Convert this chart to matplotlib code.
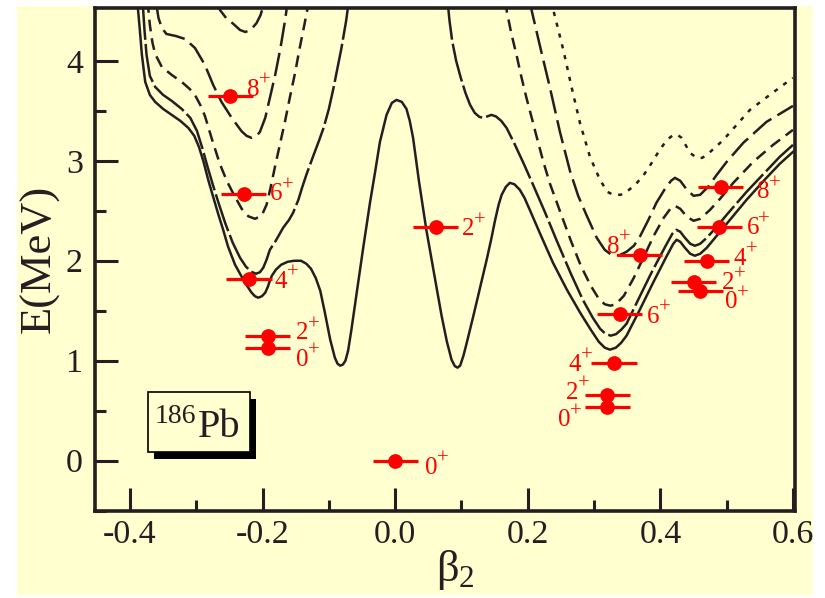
import matplotlib
matplotlib.use("Agg")
import matplotlib.pyplot as plt
from matplotlib.patches import Rectangle

plt.rcParams["font.family"] = ["Liberation Serif", "DejaVu Serif"]
plt.rcParams["mathtext.fontset"] = "custom"
plt.rcParams["mathtext.rm"] = "Liberation Serif"
plt.rcParams["mathtext.it"] = "Liberation Serif:italic"
plt.rcParams["mathtext.bf"] = "Liberation Serif:bold"
plt.rcParams["axes.unicode_minus"] = False
plt.rcParams["lines.scale_dashes"] = False

# ---------------- potential energy curves E_I(beta2) ----------------
# I = 0 (continuous over the whole deformation range)
i0_beta = [-0.389, -0.385, -0.382, -0.377, -0.370, -0.362, -0.350, -0.337, -0.324, -0.312,
           -0.303, -0.296, -0.289, -0.282, -0.275, -0.267, -0.259, -0.252, -0.2415, -0.2315,
           -0.2235, -0.2165, -0.2115, -0.2065, -0.201, -0.196, -0.192, -0.189, -0.186, -0.180,
           -0.172, -0.162, -0.152, -0.142, -0.134, -0.127, -0.120, -0.113, -0.106, -0.098,
           -0.091, -0.087, -0.083, -0.079, -0.075, -0.071, -0.066, -0.058, -0.048, -0.038,
           -0.030, -0.023, -0.013, -0.005, 0.002, 0.010, 0.017, 0.022, 0.027, 0.036,
           0.047, 0.063, 0.070, 0.078, 0.085, 0.090, 0.094, 0.098, 0.103, 0.108,
           0.118, 0.128, 0.138, 0.145, 0.1505, 0.156, 0.1606, 0.167, 0.173, 0.180,
           0.188, 0.195, 0.203, 0.218, 0.238, 0.259, 0.279, 0.295, 0.307, 0.316,
           0.324, 0.333, 0.341, 0.349, 0.369, 0.389, 0.409, 0.4195, 0.4245, 0.430,
           0.437, 0.445, 0.452, 0.460, 0.470, 0.485, 0.500, 0.530, 0.560, 0.580, 0.600]
i0_e = [4.60, 4.30, 4.06, 3.79, 3.66, 3.59, 3.52, 3.46, 3.40, 3.33,
        3.25, 3.14, 2.99, 2.81, 2.65, 2.47, 2.30, 2.14, 1.96, 1.84,
        1.75, 1.68, 1.645, 1.63, 1.645, 1.68, 1.74, 1.80, 1.85, 1.91,
        1.96, 1.99, 2.00, 2.00, 1.97, 1.92, 1.83, 1.70, 1.48, 1.21,
        1.03, 0.97, 0.95, 0.96, 1.00, 1.10, 1.31, 1.68, 2.14, 2.58,
        2.90, 3.19, 3.46, 3.58, 3.61, 3.59, 3.52, 3.40, 3.23, 2.79,
        2.31, 1.71, 1.45, 1.19, 1.01, 0.945, 0.93, 0.95, 1.05, 1.18,
        1.45, 1.73, 2.01, 2.22, 2.40, 2.56, 2.66, 2.74, 2.78, 2.765,
        2.71, 2.63, 2.51, 2.28, 1.98, 1.71, 1.48, 1.31, 1.19, 1.13,
        1.11, 1.13, 1.18, 1.25, 1.51, 1.78, 2.04, 2.17, 2.21, 2.19,
        2.13, 2.07, 2.05, 2.07, 2.13, 2.25, 2.37, 2.61, 2.83, 2.97, 3.09]

# I = 2
i2_obl_beta = [-0.381, -0.378, -0.375, -0.370, -0.362, -0.350, -0.337, -0.322, -0.309, -0.299,
               -0.291, -0.283, -0.275, -0.266, -0.256, -0.245, -0.234, -0.225, -0.217, -0.210,
               -0.204, -0.199, -0.194, -0.189, -0.181, -0.169, -0.160, -0.154, -0.146, -0.140,
               -0.134, -0.1235, -0.115, -0.108, -0.100, -0.093, -0.087, -0.081, -0.074, -0.070]
i2_obl_e = [4.60, 4.30, 4.06, 3.85, 3.74, 3.66, 3.60, 3.52, 3.43, 3.30,
            3.13, 2.94, 2.76, 2.57, 2.37, 2.18, 2.03, 1.94, 1.89, 1.87,
            1.885, 1.93, 2.01, 2.11, 2.19, 2.33, 2.41, 2.48, 2.61, 2.74,
            2.86, 3.05, 3.20, 3.33, 3.52, 3.73, 3.93, 4.13, 4.40, 4.60]
i2_pro_beta = [0.079, 0.082, 0.086, 0.092, 0.099, 0.106, 0.113, 0.120, 0.127, 0.133,
               0.139, 0.145, 0.152, 0.160, 0.168, 0.180, 0.194, 0.208, 0.225, 0.245,
               0.265, 0.283, 0.298, 0.309, 0.317, 0.325, 0.333, 0.341, 0.349, 0.368,
               0.388, 0.408, 0.418, 0.424, 0.430, 0.437, 0.445, 0.452, 0.460, 0.470,
               0.485, 0.500, 0.530, 0.560, 0.580, 0.600]
i2_pro_e = [4.60, 4.40, 4.20, 4.00, 3.83, 3.68, 3.56, 3.48, 3.44, 3.43,
            3.445, 3.46, 3.445, 3.40, 3.33, 3.17, 2.97, 2.76, 2.50, 2.18,
            1.87, 1.61, 1.43, 1.32, 1.27, 1.25, 1.265, 1.31, 1.37, 1.63,
            1.90, 2.15, 2.27, 2.31, 2.29, 2.23, 2.17, 2.15, 2.17, 2.23,
            2.34, 2.46, 2.69, 2.90, 3.04, 3.16]

# I = 4
i4_obl_beta = [-0.3735, -0.370, -0.366, -0.362, -0.352, -0.337, -0.322, -0.310, -0.302, -0.294,
               -0.287, -0.277, -0.2645, -0.254, -0.244, -0.2315, -0.2215, -0.2115, -0.2015, -0.194,
               -0.188, -0.181, -0.174, -0.166, -0.159, -0.151, -0.144, -0.137, -0.130]
i4_obl_e = [4.60, 4.36, 4.18, 4.07, 3.94, 3.86, 3.79, 3.72, 3.66, 3.56,
            3.45, 3.23, 2.97, 2.80, 2.67, 2.52, 2.445, 2.42, 2.45, 2.56,
            2.73, 2.95, 3.16, 3.40, 3.63, 3.88, 4.13, 4.36, 4.60]
i4_pro_beta = [0.166, 0.168, 0.175, 0.183, 0.190, 0.198, 0.206, 0.2134, 0.2235, 0.2335,
               0.250, 0.265, 0.280, 0.295, 0.307, 0.316, 0.3245, 0.333, 0.345, 0.360,
               0.375, 0.390, 0.405, 0.415, 0.422, 0.430, 0.440, 0.450, 0.460, 0.475,
               0.490, 0.510, 0.540, 0.570, 0.600]
i4_pro_e = [4.60, 4.51, 4.28, 4.06, 3.85, 3.63, 3.43, 3.24, 2.99, 2.77,
            2.47, 2.20, 1.95, 1.75, 1.62, 1.565, 1.55, 1.565, 1.65, 1.83,
            2.04, 2.25, 2.43, 2.52, 2.55, 2.52, 2.44, 2.40, 2.42, 2.51,
            2.62, 2.78, 2.99, 3.16, 3.31]

# I = 6
i6_obl_beta = [-0.361, -0.357, -0.352, -0.345, -0.331, -0.317, -0.302, -0.287, -0.2745, -0.262,
               -0.2465, -0.2315, -0.224, -0.2165, -0.209, -0.204, -0.196, -0.189, -0.181, -0.173,
               -0.166, -0.162]
i6_obl_e = [4.60, 4.43, 4.33, 4.27, 4.25, 4.22, 4.13, 3.96, 3.76, 3.59,
            3.43, 3.295, 3.25, 3.23, 3.25, 3.29, 3.43, 3.63, 3.86, 4.13,
            4.41, 4.60]
i6_pro_beta = [0.204, 0.2057, 0.218, 0.2335, 0.2485, 0.2636, 0.276, 0.289, 0.304, 0.316,
               0.327, 0.338, 0.349, 0.360, 0.369, 0.382, 0.394, 0.406, 0.416, 0.422,
               0.430, 0.440, 0.450, 0.460, 0.472, 0.485, 0.500, 0.525, 0.560, 0.600]
i6_pro_e = [4.60, 4.51, 4.16, 3.73, 3.29, 2.90, 2.65, 2.45, 2.23, 2.11,
            2.055, 2.055, 2.09, 2.15, 2.24, 2.41, 2.58, 2.71, 2.80, 2.83,
            2.80, 2.71, 2.65, 2.66, 2.74, 2.86, 2.99, 3.18, 3.39, 3.55]

# I = 8
i8_obl_beta = [-0.2685, -0.2643, -0.255, -0.244, -0.234, -0.226, -0.218, -0.209, -0.203, -0.199, -0.198]
i8_obl_e = [4.60, 4.51, 4.43, 4.37, 4.31, 4.29, 4.31, 4.38, 4.46, 4.55, 4.60]
i8_pro_beta = [0.2365, 0.2385, 0.2536, 0.266, 0.2787, 0.2938, 0.3089, 0.320, 0.329, 0.340,
               0.349, 0.362, 0.374, 0.386, 0.399, 0.410, 0.4195, 0.426, 0.432, 0.4447,
               0.4548, 0.463, 0.470, 0.482, 0.495, 0.515, 0.535, 0.565, 0.5955, 0.600]
i8_pro_e = [4.60, 4.51, 4.11, 3.74, 3.38, 3.04, 2.81, 2.69, 2.66, 2.66,
            2.69, 2.76, 2.85, 2.97, 3.11, 3.21, 3.26, 3.26, 3.23, 3.08,
            3.03, 3.03, 3.06, 3.13, 3.21, 3.36, 3.51, 3.66, 3.81, 3.83]

# ---------------- experimental levels ----------------
spin_labels = ["0", "2", "4", "6", "8"]
obl_beta = [-0.192, -0.192, -0.2205, -0.2285, -0.249]
obl_e = [1.127, 1.243, 1.82, 2.667, 3.65]
sph_beta = [0.0, 0.061]
sph_e = [0.0, 2.333]
pro1_beta = [0.320, 0.320, 0.330, 0.339, 0.369]
pro1_e = [0.533, 0.657, 0.977, 1.467, 2.06]
pro2_beta = [0.460, 0.450, 0.470, 0.489, 0.491]
pro2_e = [1.693, 1.783, 2.00, 2.333, 2.737]
beta_err = 0.034

x_ticks = [-0.4, -0.2, 0.0, 0.2, 0.4, 0.6]
y_ticks = [0, 1, 2, 3, 4]

# ---------------- figure ----------------
W, H = 825, 598
fig = plt.figure(figsize=(W / 100, H / 100), dpi=100, facecolor="white")
yellow = "#FFFFD0"
ink = "#231F20"
fig.patches.append(Rectangle((17 / W, 1 - 595 / H), (813 - 17) / W, (595 - 6) / H,
                             transform=fig.transFigure, facecolor=yellow,
                             edgecolor="none", zorder=-10))

ax_l, ax_r, ax_t, ax_b = 95.3, 795.3, 7.7, 510.5
ax = fig.add_axes([ax_l / W, 1 - ax_b / H, (ax_r - ax_l) / W, (ax_b - ax_t) / H])
ax.set_facecolor(yellow)
ax.set_xlim(-0.4523, 0.6035)
ax.set_ylim(-0.495, 4.533)

lw = 1.8
style_i0 = "-"
style_i2 = (0, (28, 3))
style_i4 = (0, (8.5, 5))
style_i6 = (0, (17, 5))
style_i8_obl = (0, (14, 5))
style_i8_pro = (0, (3, 5))

ax.plot(i0_beta, i0_e, color=ink, lw=lw, ls=style_i0)
ax.plot(i2_obl_beta, i2_obl_e, color=ink, lw=lw, ls=style_i2)
ax.plot(i2_pro_beta, i2_pro_e, color=ink, lw=lw, ls=style_i2)
ax.plot(i4_obl_beta, i4_obl_e, color=ink, lw=lw, ls=style_i4)
ax.plot(i4_pro_beta, i4_pro_e, color=ink, lw=lw, ls=style_i4)
ax.plot(i6_obl_beta, i6_obl_e, color=ink, lw=lw, ls=style_i6)
ax.plot(i6_pro_beta, i6_pro_e, color=ink, lw=lw, ls=style_i6)
ax.plot(i8_obl_beta, i8_obl_e, color=ink, lw=lw, ls=style_i8_obl)
ax.plot(i8_pro_beta, i8_pro_e, color=ink, lw=lw, ls=style_i8_pro)

red = "#FF0000"
for bx, ey in [(obl_beta, obl_e), (sph_beta, sph_e), (pro1_beta, pro1_e), (pro2_beta, pro2_e)]:
    ax.errorbar(bx, ey, xerr=beta_err, fmt="o", color=red, ms=9.6, elinewidth=2.3,
                capsize=0, zorder=5)

# label placement: left edge of the digit and its baseline, in pixels from the level point
obl_pos = [(28, -18), (28, -3), (26, -9), (26, -6), (17, 0)]
sph_pos = [(30, -13), (26, -8)]
pro1_pos = [(-49, -19), (-41, -4), (-45, -8), (27, -9), (-33, 2)]
pro2_pos = [(25, -17), (28, -7), (27, -4), (27, -7), (36, -11)]

digit_size, plus_size = 18, 15
digit_adv = 12.0     # pixel advance of one digit at digit_size
plus_rise = 10.0     # baseline lift of the superscript sign

def put_labels(bx, ey, spins, pos):
    for b, e, s, (dx, dy) in zip(bx, ey, spins, pos):
        ax.annotate(s, (b, e), xytext=(dx, dy), textcoords="offset pixels",
                    ha="left", va="baseline", color=red, fontsize=digit_size, zorder=6)
        ax.annotate("+", (b, e), xytext=(dx + digit_adv, dy + plus_rise),
                    textcoords="offset pixels", ha="left", va="baseline", color=red,
                    fontsize=plus_size, zorder=6)

put_labels(obl_beta, obl_e, spin_labels, obl_pos)
put_labels(sph_beta, sph_e, spin_labels[:2], sph_pos)
put_labels(pro1_beta, pro1_e, spin_labels, pro1_pos)
put_labels(pro2_beta, pro2_e, spin_labels, pro2_pos)

# nucleus tag with drop shadow
def px2ax(px, py):
    return (px - ax_l) / (ax_r - ax_l), (ax_b - py) / (ax_b - ax_t)

bx0, by0 = px2ax(148.3, 451.7)
bx1, by1 = px2ax(250.0, 391.7)
sdx, sdy = 6 / (ax_r - ax_l), 7 / (ax_b - ax_t)
ax.add_patch(Rectangle((bx0 + sdx, by0 - sdy), bx1 - bx0, by1 - by0, transform=ax.transAxes,
                       facecolor="black", edgecolor="black", lw=0, zorder=7))
ax.add_patch(Rectangle((bx0, by0), bx1 - bx0, by1 - by0, transform=ax.transAxes,
                       facecolor=yellow, edgecolor="black", lw=1.2, zorder=8))
tx, ty = px2ax(155, 423.3)
ax.text(tx, ty, "186", transform=ax.transAxes, fontsize=20, va="baseline", ha="left",
        color=ink, zorder=9)
tx, ty = px2ax(198.3, 436.7)
ax.text(tx, ty, "Pb", transform=ax.transAxes, fontsize=29, va="baseline", ha="left",
        color=ink, zorder=9)

# axes styling
for side in ["left", "right", "top", "bottom"]:
    ax.spines[side].set_linewidth(2.6)
    ax.spines[side].set_color(ink)
ax.set_xticks(x_ticks)
ax.set_xticklabels(["%.1f" % v for v in x_ticks])
ax.set_yticks(y_ticks)
ax.set_yticklabels(["%d" % v for v in y_ticks])
ax.set_xticks([-0.3, -0.1, 0.1, 0.3, 0.5], minor=True)
ax.set_yticks([-0.5, 0.5, 1.5, 2.5, 3.5], minor=True)
ax.tick_params(which="both", direction="in", top=False, right=False, color=ink,
               labelcolor=ink, width=2.2, labelsize=24.5)
ax.tick_params(which="major", length=16.5)
ax.tick_params(which="minor", length=8)
ax.tick_params(axis="y", pad=9)
ax.tick_params(axis="x", pad=6.5)

ax.set_ylabel("E(MeV)", fontsize=32, color=ink)
ax.yaxis.set_label_coords(px2ax(60, 0)[0], 0.5)
ax.set_xlabel(r"β$_{2}$", fontsize=32, color=ink)
ax.xaxis.set_label_coords(px2ax(455, 0)[0], px2ax(0, 548)[1])

fig.savefig("out.png", dpi=100, facecolor="white")
